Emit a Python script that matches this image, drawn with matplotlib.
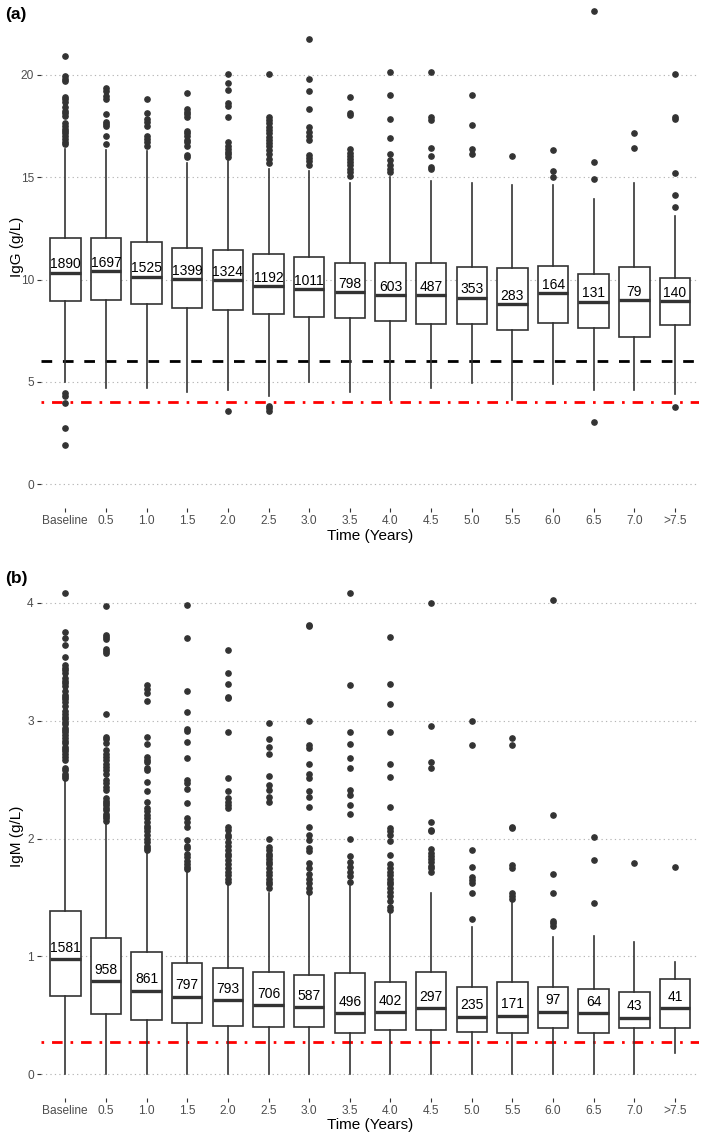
import matplotlib
matplotlib.use('Agg')
import matplotlib.pyplot as plt
import numpy as np

plt.rcParams['font.family'] = ['Liberation Sans', 'DejaVu Sans']
plt.rcParams['lines.scale_dashes'] = False

# ---------------- data ----------------
categories = ['Baseline', '0.5', '1.0', '1.5', '2.0', '2.5', '3.0', '3.5',
              '4.0', '4.5', '5.0', '5.5', '6.0', '6.5', '7.0', '>7.5']

igg_n = [1890, 1697, 1525, 1399, 1324, 1192, 1011, 798, 603, 487, 353, 283, 164, 131, 79, 140]
igg_q1 = [8.97, 9.00, 8.81, 8.60, 8.51, 8.32, 8.19, 8.11, 7.99, 7.82, 7.82, 7.54, 7.87, 7.62, 7.21, 7.78]
igg_med = [10.34, 10.42, 10.14, 10.01, 9.98, 9.69, 9.53, 9.39, 9.23, 9.23, 9.12, 8.81, 9.33, 8.91, 9.00, 8.95]
igg_q3 = [12.03, 12.03, 11.82, 11.53, 11.45, 11.23, 11.12, 10.80, 10.83, 10.83, 10.63, 10.58, 10.66, 10.27, 10.63, 10.06]
igg_whislo = [5.01, 4.69, 4.69, 4.49, 4.61, 4.31, 5.01, 4.52, 4.12, 4.72, 4.93, 4.12, 4.90, 4.61, 4.61, 4.40]
igg_whishi = [16.40, 16.31, 16.30, 15.71, 15.79, 15.39, 15.32, 14.73, 15.01, 14.82, 14.73, 14.62, 14.62, 13.92, 14.73, 13.11]
igg_outliers = [
    [20.94, 19.95, 19.82, 19.72, 18.94, 18.81, 18.69, 18.42, 18.25, 18.12, 17.99, 17.63, 17.50,
     17.37, 17.26, 17.15, 17.02, 16.89, 16.74, 16.62, 4.44, 4.33, 3.99, 2.74, 1.90],
    [19.34, 19.23, 18.97, 18.82, 18.07, 17.71, 17.60, 17.50, 17.03, 16.62],
    [18.82, 18.12, 17.87, 17.71, 17.50, 17.02, 16.86, 16.70, 16.51],
    [19.13, 18.35, 18.20, 18.10, 17.95, 17.26, 17.15, 17.00, 16.80, 16.70, 16.55, 16.10, 16.00],
    [20.04, 19.62, 19.26, 18.61, 18.48, 17.95, 16.70, 16.54, 16.38, 16.25, 16.12, 16.01, 3.60],
    [20.04, 17.95, 17.79, 17.63, 17.47, 17.31, 17.15, 16.99, 16.83, 16.67, 16.51, 16.33, 16.16,
     15.90, 15.72, 3.83, 3.71, 3.60],
    [21.74, 19.82, 19.23, 18.34, 17.45, 17.20, 17.02, 16.83, 16.10, 15.94, 15.78, 15.62],
    [18.92, 18.12, 18.04, 16.37, 16.18, 16.05, 15.90, 15.75, 15.60, 15.40, 15.26, 15.07],
    [20.14, 19.02, 17.85, 16.93, 16.14, 15.84, 15.58, 15.42, 15.26],
    [20.14, 17.96, 17.80, 16.44, 16.04, 15.52, 15.41],
    [19.02, 17.54, 16.36, 16.14],
    [16.04],
    [16.33, 15.32, 15.03],
    [23.14, 15.73, 14.91, 3.03],
    [17.15, 16.44],
    [20.04, 17.93, 17.83, 15.22, 14.13, 13.53, 3.79],
]
igg_ref_dashed = 6.0
igg_ref_dotdash = 4.0

igm_n = [1581, 958, 861, 797, 793, 706, 587, 496, 402, 297, 235, 171, 97, 64, 43, 41]
igm_q1 = [0.664, 0.511, 0.461, 0.432, 0.410, 0.398, 0.398, 0.348, 0.376, 0.376, 0.356, 0.348, 0.390, 0.350, 0.395, 0.395]
igm_med = [0.975, 0.791, 0.709, 0.658, 0.630, 0.588, 0.568, 0.517, 0.528, 0.560, 0.489, 0.497, 0.531, 0.517, 0.480, 0.562]
igm_q3 = [1.388, 1.159, 1.040, 0.947, 0.899, 0.868, 0.845, 0.862, 0.780, 0.870, 0.738, 0.786, 0.740, 0.721, 0.698, 0.811]
igm_whislo = [0, 0, 0, 0, 0, 0, 0, 0, 0, 0, 0, 0, 0, 0, 0, 0.183]
igm_whishi = [2.50, 2.13, 1.874, 1.733, 1.62, 1.535, 1.52, 1.60, 1.357, 1.54, 1.247, 1.455, 1.167, 1.176, 1.125, 0.955]
igm_outliers = [
    [4.08, 3.75, 3.70, 3.64, 3.54, 3.47, 3.45, 3.43, 3.40, 3.36, 3.34, 3.32, 3.29, 3.25, 3.22,
     3.20, 3.18, 3.16, 3.12, 3.08, 3.06, 3.03, 3.01, 2.99, 2.97, 2.94, 2.92, 2.90, 2.88, 2.85,
     2.83, 2.81, 2.78, 2.76, 2.74, 2.72, 2.69, 2.67, 2.60, 2.58, 2.55, 2.53, 2.51],
    [3.97, 3.73, 3.71, 3.69, 3.61, 3.59, 3.57, 3.06, 2.86, 2.84, 2.81, 2.75, 2.72, 2.69, 2.67,
     2.63, 2.61, 2.58, 2.55, 2.50, 2.47, 2.44, 2.41, 2.34, 2.32, 2.30, 2.28, 2.26, 2.24, 2.21,
     2.19, 2.17, 2.15],
    [3.30, 3.27, 3.23, 3.17, 2.86, 2.80, 2.69, 2.67, 2.65, 2.60, 2.58, 2.48, 2.40, 2.31, 2.26,
     2.23, 2.20, 2.17, 2.14, 2.11, 2.09, 2.06, 2.03, 2.00, 1.97, 1.94, 1.92, 1.90],
    [3.98, 3.70, 3.25, 3.07, 2.93, 2.91, 2.82, 2.68, 2.50, 2.47, 2.42, 2.30, 2.17, 2.14, 2.10,
     1.99, 1.94, 1.92, 1.87, 1.84, 1.81, 1.78, 1.76, 1.74],
    [3.60, 3.40, 3.31, 3.20, 3.19, 2.90, 2.51, 2.40, 2.34, 2.31, 2.28, 2.26, 2.10, 2.07, 2.03,
     2.01, 1.97, 1.94, 1.90, 1.87, 1.85, 1.82, 1.78, 1.75, 1.72, 1.69, 1.66, 1.63],
    [2.98, 2.84, 2.78, 2.72, 2.53, 2.45, 2.41, 2.35, 2.31, 2.00, 1.93, 1.90, 1.87, 1.85, 1.83,
     1.80, 1.78, 1.75, 1.72, 1.69, 1.66, 1.63, 1.61, 1.58],
    [3.81, 3.80, 3.00, 2.79, 2.77, 2.63, 2.55, 2.51, 2.40, 2.35, 2.27, 2.10, 2.03, 1.99, 1.92,
     1.89, 1.79, 1.75, 1.70, 1.66, 1.62, 1.58, 1.55],
    [4.08, 3.30, 2.90, 2.80, 2.68, 2.60, 2.41, 2.37, 2.28, 2.21, 2.00, 1.85, 1.80, 1.76, 1.72,
     1.68, 1.63],
    [3.71, 3.31, 3.14, 2.90, 2.63, 2.52, 2.27, 2.09, 2.06, 2.03, 1.98, 1.86, 1.78, 1.75, 1.72,
     1.69, 1.66, 1.63, 1.61, 1.58, 1.55, 1.51, 1.47, 1.42, 1.39],
    [4.00, 2.95, 2.65, 2.60, 2.14, 2.07, 2.06, 1.91, 1.88, 1.85, 1.83, 1.80, 1.77, 1.75, 1.72],
    [3.00, 2.79, 1.90, 1.76, 1.67, 1.645, 1.62, 1.535, 1.317],
    [2.85, 2.79, 2.10, 2.09, 1.775, 1.75, 1.54, 1.51, 1.485],
    [4.02, 2.20, 1.70, 1.535, 1.30, 1.28, 1.258],
    [2.01, 1.818, 1.45],
    [1.79],
    [1.76],
]
igm_ref_dotdash = 0.27

igg_yticks = [0, 5, 10, 15, 20]
igm_yticks = [0, 1, 2, 3, 4]

# ---------------- styling ----------------
W, H = 709, 1137
DARK = '#333333'
fig = plt.figure(figsize=(W / 100, H / 100), dpi=100)


def fx(px):
    return px / W


def fy(py):
    return 1 - py / H


left_px, right_px = 40.9, 699.4


def make_axes(top_px, bottom_px):
    return fig.add_axes([fx(left_px), fy(bottom_px), fx(right_px - left_px), (bottom_px - top_px) / H])


def draw_panel(ax, q1, med, q3, lo, hi, outl, counts, yticks, ylim, label_off):
    stats = []
    for i in range(len(categories)):
        stats.append(dict(q1=q1[i], med=med[i], q3=q3[i], whislo=lo[i], whishi=hi[i],
                          fliers=np.array(outl[i])))
    pos = np.arange(len(categories))
    ax.bxp(stats, positions=pos, widths=0.75, patch_artist=True, showcaps=False,
           boxprops=dict(facecolor='white', edgecolor=DARK, linewidth=1.2),
           medianprops=dict(color=DARK, linewidth=2.4, solid_capstyle='butt'),
           whiskerprops=dict(color=DARK, linewidth=1.2),
           flierprops=dict(marker='o', markerfacecolor=DARK, markeredgecolor=DARK,
                           markersize=3.8, linestyle='none'),
           zorder=3)
    for i in range(len(categories)):
        ax.annotate(str(counts[i]), (pos[i], med[i]), xytext=(0, label_off),
                    textcoords='offset points', ha='center', va='baseline',
                    fontsize=10, color='black', zorder=5)
    ax.set_xlim(-0.6, len(categories) - 0.4)
    ax.set_ylim(*ylim)
    ax.set_xticks(pos)
    ax.set_xticklabels(categories)
    ax.set_yticks(yticks)
    ax.set_yticklabels([str(t) for t in yticks])
    for s in ax.spines.values():
        s.set_visible(False)
    ax.yaxis.grid(True, color='#B5B5B5', linewidth=0.8, linestyle=(0, (0.9, 2.3)))
    ax.xaxis.grid(False)
    ax.set_axisbelow(True)
    ax.set_facecolor('none')
    ax.tick_params(axis='both', length=2.9, width=0.8, color=DARK, labelcolor='#4D4D4D',
                   labelsize=8.6, pad=2.2)


# Panel (a): IgG
ax1 = make_axes(0, 508)
draw_panel(ax1, igg_q1, igg_med, igg_q3, igg_whislo, igg_whishi, igg_outliers, igg_n,
           igg_yticks, ((484.3 - 508) / 20.47, 484.3 / 20.47), 3.2)
ax1.axhline(igg_ref_dashed, color='black', linewidth=2.0, linestyle=(0, (7.7, 7.7)),
            dash_capstyle='butt', zorder=2)
ax1.axhline(igg_ref_dotdash, color='#FF0000', linewidth=2.0,
            linestyle=(0, (1.9, 5.7, 7.6, 5.7)), dash_capstyle='butt', zorder=2)

# Panel (b): IgM
ax2 = make_axes(569, 1098)
draw_panel(ax2, igm_q1, igm_med, igm_q3, igm_whislo, igm_whishi, igm_outliers, igm_n,
           igm_yticks, ((1074.3 - 1098) / 117.9, (1074.3 - 569) / 117.9), 5.2)
ax2.axhline(igm_ref_dotdash, color='#FF0000', linewidth=2.0,
            linestyle=(0, (1.9, 5.7, 7.6, 5.7)), dash_capstyle='butt', zorder=2)

# Titles, tags
fig.text(fx(5), fy(14), '(a)', fontsize=12.5, fontweight='bold', ha='left', va='center')
fig.text(fx(5), fy(578), '(b)', fontsize=12.5, fontweight='bold', ha='left', va='center')
fig.text(fx(370), fy(535.7), 'Time (Years)', fontsize=11, ha='center', va='center')
fig.text(fx(370), fy(1125), 'Time (Years)', fontsize=11, ha='center', va='center')
fig.text(fx(16.5), fy(246.7), 'IgG (g/L)', fontsize=11, rotation=90, ha='center', va='center')
fig.text(fx(16.5), fy(836), 'IgM (g/L)', fontsize=11, rotation=90, ha='center', va='center')

fig.savefig('out.png', dpi=100, facecolor='white')
